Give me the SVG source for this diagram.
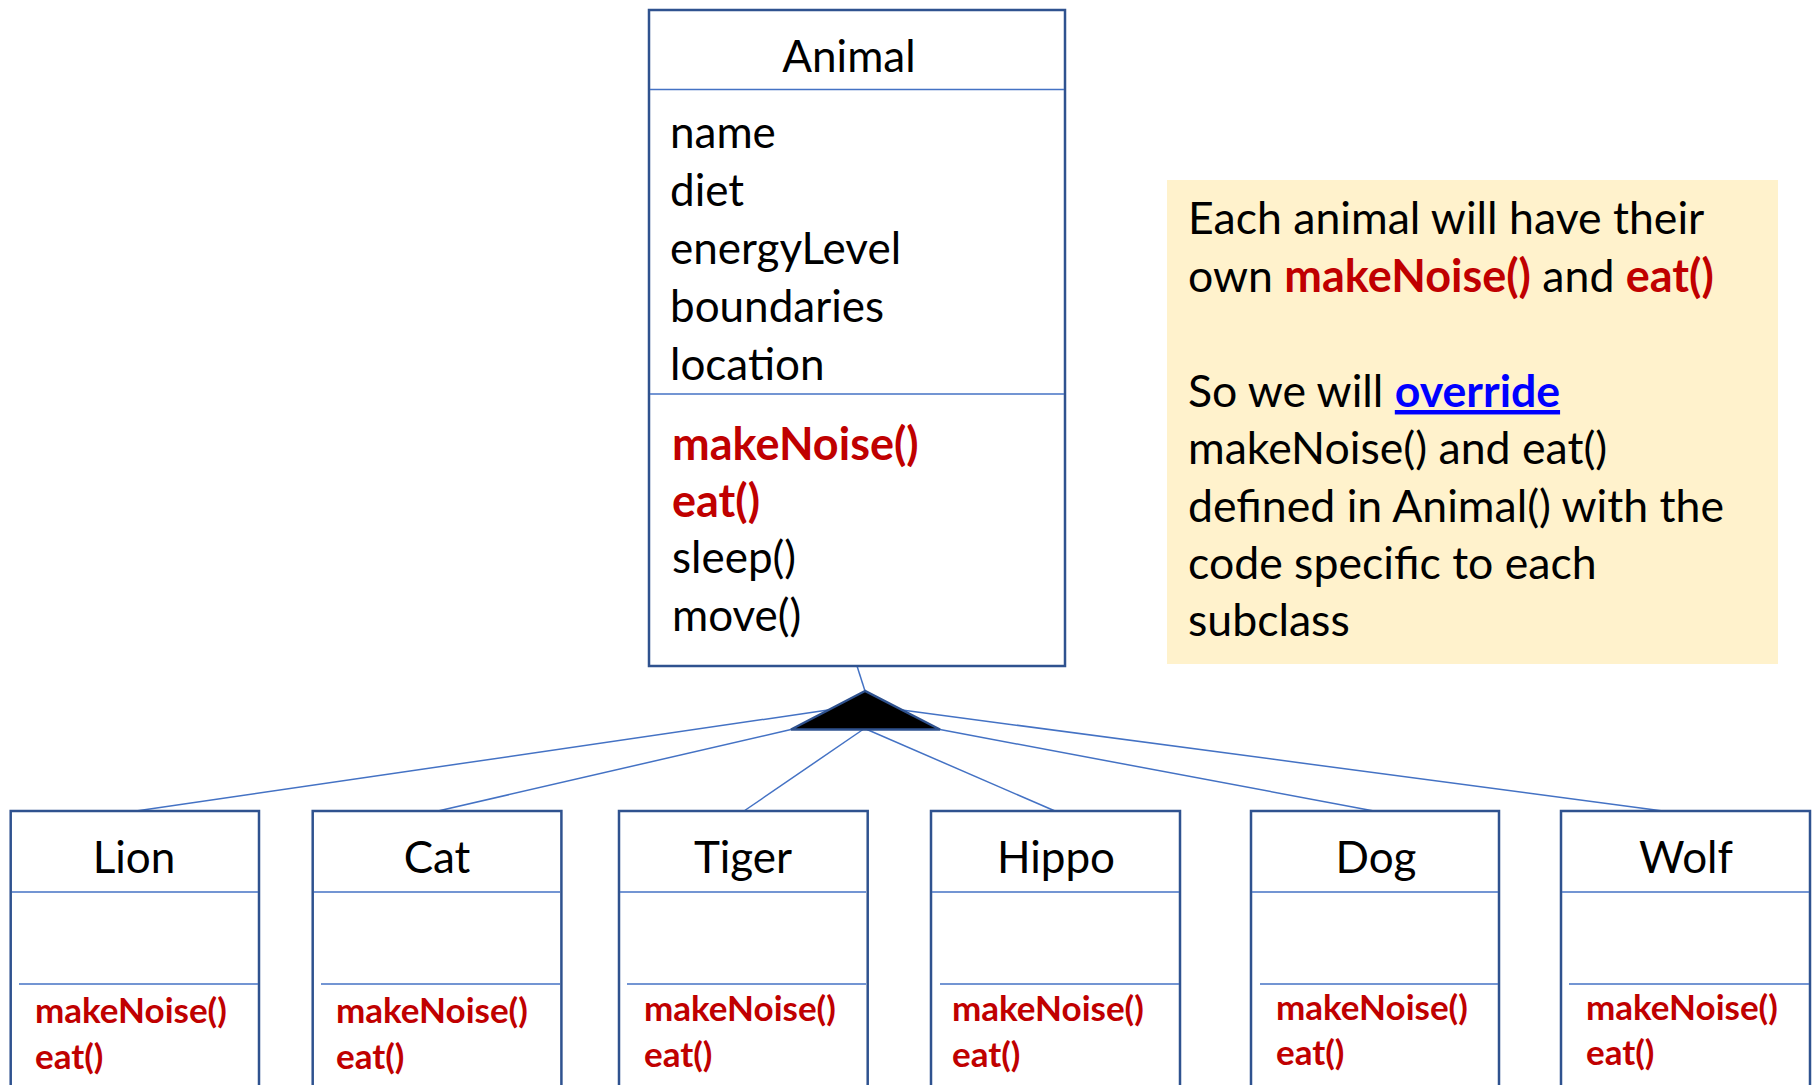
<svg xmlns="http://www.w3.org/2000/svg" width="1816" height="1085" viewBox="0 0 1816 1085">
  <style>
    .box { fill: #ffffff; stroke: #2F528F; stroke-width: 2.5; }
    .sep { stroke: #4472C4; stroke-width: 1.5; }
    .conn { stroke: #4472C4; stroke-width: 1.5; fill: none; }
    .txt { font-family: Lato, "Liberation Sans", sans-serif; font-size: 44px; fill: #000000; }
    .note { font-size: 44.6px; }
    .hot { font-weight: 700; fill: #C00000; font-size: 45px; }
    .link { font-weight: 700; fill: #0000FF; text-decoration: underline; }
    .sub { font-family: Lato, "Liberation Sans", sans-serif; font-size: 35px; font-weight: 700; fill: #C00000; }
    .gen { fill: #000000; stroke: #2F528F; stroke-width: 2.5; stroke-linejoin: miter; }
  </style>

  <rect width="1816" height="1085" fill="#ffffff"/>

  <!-- inheritance connectors -->
  <g id="connectors">
    <line class="conn" x1="857" y1="666" x2="865" y2="691"/>
    <line class="conn" x1="136" y1="811" x2="828" y2="710"/>
    <line class="conn" x1="438" y1="811" x2="791" y2="729.5"/>
    <line class="conn" x1="744" y1="811" x2="863" y2="729.5"/>
    <line class="conn" x1="1055" y1="811" x2="867" y2="729.5"/>
    <line class="conn" x1="1374" y1="811" x2="940" y2="729.5"/>
    <line class="conn" x1="1663" y1="811" x2="902" y2="710"/>
    <polygon class="gen" points="865,691 791,729.5 940,729.5"/>
  </g>

  <!-- base class -->
  <g id="animal">
    <rect class="box" x="649" y="10" width="416" height="656"/>
    <line class="sep" x1="650" y1="89.5" x2="1064" y2="89.5"/>
    <line class="sep" x1="650" y1="394" x2="1064" y2="394"/>
    <text class="txt" x="849" y="72" text-anchor="middle">Animal</text>
    <text class="txt" x="670" y="148">name</text>
    <text class="txt" x="670" y="206">diet</text>
    <text class="txt" x="670" y="264">energyLevel</text>
    <text class="txt" x="670" y="322">boundaries</text>
    <text class="txt" x="670" y="380">location</text>
    <text class="txt hot" x="672" y="460">makeNoise()</text>
    <text class="txt hot" x="672" y="517">eat()</text>
    <text class="txt" x="672" y="573">sleep()</text>
    <text class="txt" x="672" y="631">move()</text>
  </g>

  <!-- explanatory note -->
  <g id="note">
    <rect x="1167" y="180" width="611" height="484" fill="#FFF2CC"/>
    <text class="txt note" x="1188" y="234">Each animal will have their</text>
    <text class="txt note" x="1188" y="292">own <tspan class="hot">makeNoise()</tspan> and <tspan class="hot">eat()</tspan></text>
    <text class="txt note" x="1188" y="407">So we will <tspan class="link">override</tspan></text>
    <text class="txt note" x="1188" y="464">makeNoise() and eat()</text>
    <text class="txt note" x="1188" y="522">defined in Animal() with the</text>
    <text class="txt note" x="1188" y="579">code specific to each</text>
    <text class="txt note" x="1188" y="636">subclass</text>
  </g>

  <!-- subclasses -->
  <g id="lion">
    <rect class="box" x="10.7" y="811" width="248.3" height="300"/>
    <line class="sep" x1="12" y1="892" x2="258" y2="892"/>
    <line class="sep" x1="19" y1="984" x2="258" y2="984"/>
    <text class="txt" x="134" y="873" text-anchor="middle">Lion</text>
    <text class="sub" x="35" y="1023">makeNoise()</text>
    <text class="sub" x="35" y="1069">eat()</text>
  </g>

  <g id="cat">
    <rect class="box" x="312.7" y="811" width="248.7" height="300"/>
    <line class="sep" x1="314" y1="892" x2="560" y2="892"/>
    <line class="sep" x1="321" y1="984" x2="560" y2="984"/>
    <text class="txt" x="437" y="873" text-anchor="middle">Cat</text>
    <text class="sub" x="336" y="1023">makeNoise()</text>
    <text class="sub" x="336" y="1069">eat()</text>
  </g>

  <g id="tiger">
    <rect class="box" x="619" y="811" width="248.7" height="300"/>
    <line class="sep" x1="620" y1="892" x2="866" y2="892"/>
    <line class="sep" x1="627" y1="984" x2="866" y2="984"/>
    <text class="txt" x="743" y="873" text-anchor="middle">Tiger</text>
    <text class="sub" x="644" y="1021">makeNoise()</text>
    <text class="sub" x="644" y="1067">eat()</text>
  </g>

  <g id="hippo">
    <rect class="box" x="931" y="811" width="249" height="300"/>
    <line class="sep" x1="932" y1="892" x2="1179" y2="892"/>
    <line class="sep" x1="940" y1="984" x2="1179" y2="984"/>
    <text class="txt" x="1056" y="873" text-anchor="middle">Hippo</text>
    <text class="sub" x="952" y="1021">makeNoise()</text>
    <text class="sub" x="952" y="1067">eat()</text>
  </g>

  <g id="dog">
    <rect class="box" x="1251" y="811" width="248" height="300"/>
    <line class="sep" x1="1252" y1="892" x2="1498" y2="892"/>
    <line class="sep" x1="1260" y1="984" x2="1498" y2="984"/>
    <text class="txt" x="1376" y="873" text-anchor="middle">Dog</text>
    <text class="sub" x="1276" y="1020">makeNoise()</text>
    <text class="sub" x="1276" y="1065">eat()</text>
  </g>

  <g id="wolf">
    <rect class="box" x="1561" y="811" width="249" height="300"/>
    <line class="sep" x1="1562" y1="892" x2="1809" y2="892"/>
    <line class="sep" x1="1569" y1="984" x2="1809" y2="984"/>
    <text class="txt" x="1686" y="873" text-anchor="middle">Wolf</text>
    <text class="sub" x="1586" y="1020">makeNoise()</text>
    <text class="sub" x="1586" y="1065">eat()</text>
  </g>
</svg>
